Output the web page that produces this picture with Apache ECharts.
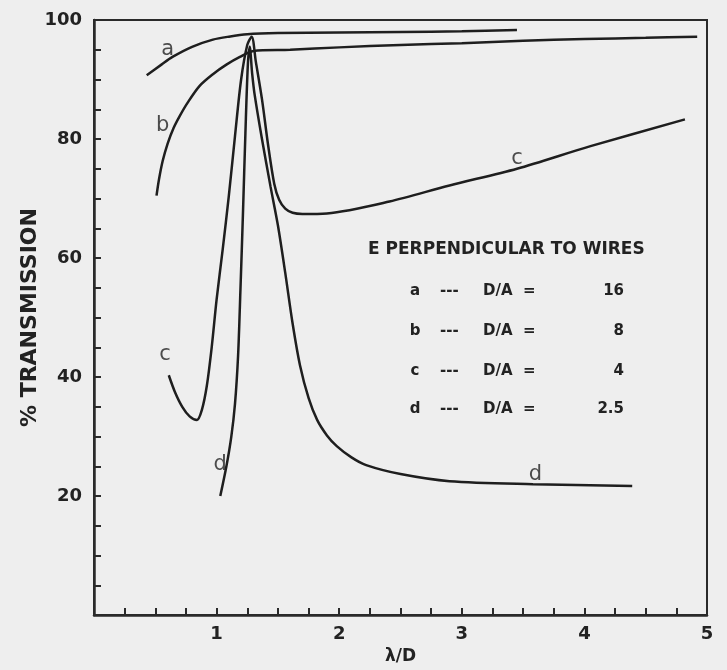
<!DOCTYPE html>
<html><head><meta charset="utf-8">
<script src="https://cdn.jsdelivr.net/npm/echarts@6/dist/echarts.min.js"></script>
<style>html,body{margin:0;padding:0;background:#eeeeee}#c{width:727px;height:670px}</style>
</head><body><div id="c"></div><script>
// ---- data ----
const curveA = [[0.43,90.7],[0.55,92.5],[0.64,93.8],[0.8,95.5],[0.97,96.7],[1.1,97.2],[1.25,97.6],[1.5,97.8],[2.0,97.9],[2.5,98.0],[3.0,98.1],[3.45,98.3]];
const curveB = [[0.51,70.5],[0.53,73.2],[0.56,76.3],[0.6,79.2],[0.65,81.9],[0.7,83.9],[0.76,86.0],[0.86,88.9],[0.97,90.9],[1.08,92.5],[1.19,93.8],[1.3,94.8],[1.6,95.0],[2.0,95.4],[2.5,95.8],[3.0,96.1],[3.5,96.5],[4.0,96.8],[4.5,97.0],[4.92,97.2]];
const curveC = [[0.61,40.3],[0.66,37.5],[0.72,35.0],[0.78,33.4],[0.84,32.8],[0.88,34.5],[0.92,38.5],[0.96,45.0],[1.0,53.0],[1.05,61.5],[1.10,70.5],[1.15,80.5],[1.2,90.0],[1.25,95.8],[1.286,97.2],[1.32,93.0],[1.37,86.7],[1.42,79.0],[1.47,72.5],[1.51,69.8],[1.56,68.3],[1.62,67.6],[1.7,67.4],[1.9,67.5],[2.41,69.5],[2.9,72.2],[3.45,75.0],[4.05,78.8],[4.82,83.3]];
const curveD = [[1.03,20.0],[1.08,25.0],[1.12,30.0],[1.15,35.5],[1.175,43.5],[1.195,55.0],[1.215,67.5],[1.235,81.0],[1.255,92.5],[1.27,95.5],[1.29,91.0],[1.31,87.5],[1.37,80.0],[1.44,72.0],[1.5,65.5],[1.56,57.5],[1.62,49.0],[1.68,42.0],[1.75,36.5],[1.82,32.8],[1.9,30.2],[1.98,28.4],[2.1,26.5],[2.22,25.2],[2.5,23.7],[2.9,22.5],[3.58,22.0],[4.39,21.7]];
const curveNames = ['a','b','c','d'];
const curveLabels = [[0.60,95.0,'a'],[0.56,82.3,'b'],[0.58,43.7,'c'],[3.45,76.7,'c'],[1.03,25.3,'d'],[3.60,23.7,'d']];
const legendHeader = 'E PERPENDICULAR TO WIRES';
const legendLetters = ['a','b','c','d'];
const legendValues = ['16','8','4','2.5'];
const xTitle = 'λ/D';
const yTitle = '% TRANSMISSION';

// ---- chart ----
const ink = '#222222';
const chart = echarts.init(document.getElementById('c'));
const lineSeries = [curveA, curveB, curveC, curveD].map((d, i) => ({
  name: curveNames[i], type: 'line', data: d, showSymbol: false, smooth: 0.3,
  lineStyle: {color: '#1e1e1e', width: 2.5}, silent: true
}));
const rowFont = 'bold 15px "DejaVu Sans"';
const graphics = [{type: 'text', x: 368, y: 250, style: {text: legendHeader, font: 'bold 17px "DejaVu Sans"', fill: ink, textAlign: 'left', textVerticalAlign: 'middle'}}];
const rowY = [291, 331, 371, 409];
legendLetters.forEach((l, i) => {
  graphics.push({type: 'text', x: 415, y: rowY[i], style: {text: l, font: rowFont, fill: ink, textAlign: 'center', textVerticalAlign: 'middle'}});
  graphics.push({type: 'text', x: 440, y: rowY[i], style: {text: '---', font: rowFont, fill: ink, textAlign: 'left', textVerticalAlign: 'middle'}});
  graphics.push({type: 'text', x: 483, y: rowY[i], style: {text: 'D/A  =', font: rowFont, fill: ink, textAlign: 'left', textVerticalAlign: 'middle'}});
  graphics.push({type: 'text', x: 624, y: rowY[i], style: {text: legendValues[i], font: rowFont, fill: ink, textAlign: 'right', textVerticalAlign: 'middle'}});
});
chart.setOption({
  animation: false,
  backgroundColor: '#eeeeee',
  grid: {left: 94, right: 20, top: 20, bottom: 50, show: true, borderColor: '#2a2a2a', borderWidth: 2},
  xAxis: {
    type: 'value', min: 0, max: 5, interval: 0.25,
    name: xTitle, nameLocation: 'middle', nameGap: 24,
    nameTextStyle: {fontSize: 17, fontWeight: 'bold', color: ink, fontFamily: 'DejaVu Sans'},
    axisLine: {show: true, lineStyle: {color: '#2a2a2a', width: 2.5}},
    axisTick: {show: true, inside: true, length: 7, lineStyle: {color: '#2a2a2a', width: 2}},
    axisLabel: {show: true, interval: 0, hideOverlap: false, margin: 10, fontSize: 18, fontWeight: 'bold', color: ink, fontFamily: 'DejaVu Sans',
      formatter: v => (Math.abs(v - Math.round(v)) < 1e-9 && v > 0) ? String(Math.round(v)) : ''},
    splitLine: {show: false}
  },
  yAxis: {
    type: 'value', min: 0, max: 100, interval: 5,
    name: yTitle, nameLocation: 'middle', nameGap: 53, nameRotate: 90, nameMoveOverlap: false,
    nameTextStyle: {fontSize: 22, fontWeight: 'bold', color: ink, fontFamily: 'DejaVu Sans'},
    axisLine: {show: true, lineStyle: {color: '#2a2a2a', width: 2.5}},
    axisTick: {show: true, inside: true, length: 7, lineStyle: {color: '#2a2a2a', width: 2}},
    axisLabel: {show: true, interval: 0, hideOverlap: false, margin: 12, fontSize: 18, fontWeight: 'bold', color: ink, fontFamily: 'DejaVu Sans',
      formatter: v => (v % 20 === 0 && v > 0) ? String(v) : ''},
    splitLine: {show: false}
  },
  series: lineSeries.concat([{
    type: 'scatter', silent: true, symbolSize: 0,
    data: curveLabels.map(p => ({value: [p[0], p[1]], name: p[2]})),
    label: {show: true, position: 'inside', formatter: p => p.name, fontSize: 21, fontFamily: 'DejaVu Sans', color: ink}
  }]),
  graphic: graphics
});
</script></body></html>
